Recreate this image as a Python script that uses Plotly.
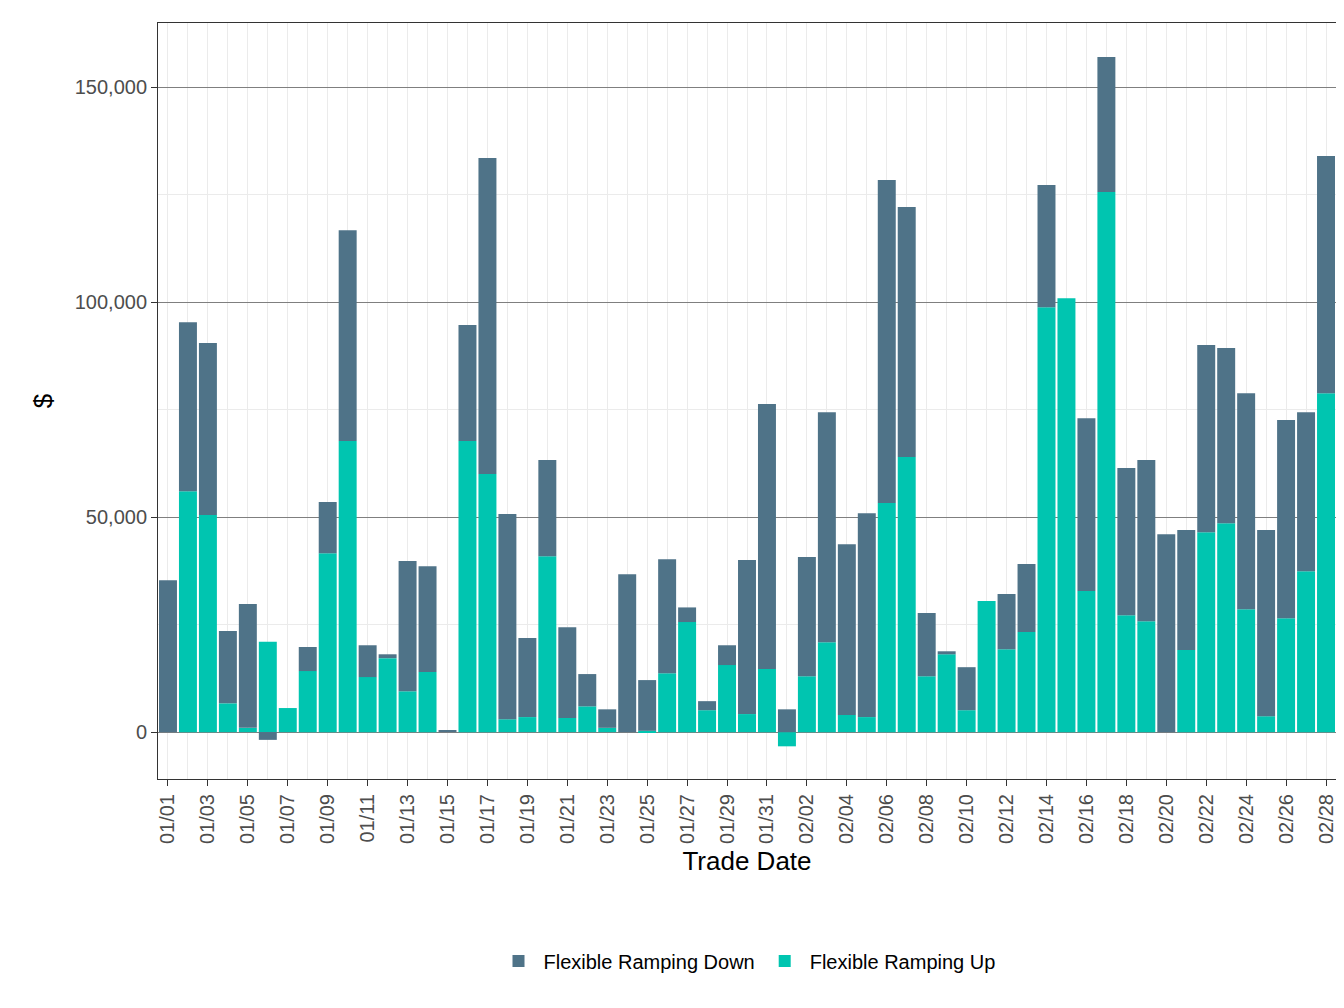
import plotly.graph_objects as go
import pandas as pd

dates = pd.date_range("2023-01-01", "2023-02-28").strftime("%m/%d").tolist()
up = [0, 56, 50.5, 6.7, 1, 21, 5.6, 14.2, 41.6, 67.7, 12.8, 17.2, 9.5, 14, 0,
      67.7, 60, 3, 3.5, 40.9, 3.3, 6, 1, 0, 0.3, 13.7, 25.6, 5.1, 15.6, 4.2, 14.7,
      -3.3, 13, 20.9, 4, 3.5, 53.3, 64, 13, 18.1, 5.1, 30.5, 19.3, 23.3, 98.8, 100.9,
      32.8, 125.6, 27.2, 25.8, 0, 19.1, 46.5, 48.6, 28.6, 3.7, 26.5, 37.4, 78.8]
down = [35.3, 39.3, 40, 16.8, 28.8, -1.8, 0, 5.6, 11.9, 49, 7.4, 0.9, 30.3, 24.6, 0.5,
        27, 73.5, 47.7, 18.4, 22.4, 21.1, 7.5, 4.3, 36.7, 11.8, 26.5, 3.4, 2.1, 4.6, 35.8, 61.6,
        5.3, 27.7, 53.5, 39.7, 47.4, 75.1, 58.1, 14.7, 0.7, 10, 0, 12.8, 15.8, 28.4, 0,
        40.2, 31.4, 34.2, 37.5, 46, 27.9, 43.5, 40.7, 50.2, 43.3, 46.1, 37, 55.2]
up = [v * 1000 for v in up]
down = [v * 1000 for v in down]

fig = go.Figure()
fig.add_bar(x=dates, y=up, name="Flexible Ramping Up", marker_color="#00c5b0",
            marker_line_width=0, legendrank=2)
fig.add_bar(x=dates, y=down, name="Flexible Ramping Down", marker_color="#4f7388",
            marker_line_width=0, legendrank=1)

fig.update_layout(
    barmode="relative", bargap=0.1, width=1344, height=1008,
    plot_bgcolor="white", paper_bgcolor="white",
    margin=dict(l=150, r=16, t=15, b=237),
    font=dict(family="Liberation Sans, Arial", size=20, color="#4d4d4d"),
    legend=dict(orientation="h", x=0.5, xanchor="center", y=-0.215, yanchor="top",
                font=dict(size=20, color="black"), itemwidth=40),
)
fig.update_xaxes(
    type="category", tickmode="array", tickvals=dates[::2], ticktext=dates[::2],
    tickangle=-90, showgrid=True, gridcolor="#ebebeb", gridwidth=1,
    ticks="outside", ticklen=6, tickcolor="#333", mirror=True, showline=True,
    linecolor="#333", linewidth=1, tickfont=dict(size=20, color="#4d4d4d"),
    title=dict(text="Trade Date", font=dict(size=26, color="black"), standoff=8),
    minor=dict(showgrid=True, gridcolor="#ebebeb", tickvals=dates[1::2]),
)
fig.update_yaxes(
    range=[-10900, 164900], tickvals=[0, 50000, 100000, 150000],
    ticktext=["0", "50,000", "100,000", "150,000"], tickfont=dict(size=20, color="#4d4d4d"),
    showgrid=True, gridcolor="#7f7f7f", gridwidth=1, zeroline=False,
    minor=dict(showgrid=True, gridcolor="#ebebeb", tickvals=[25000, 75000, 125000]),
    ticks="outside", ticklen=6, tickcolor="#333", mirror=True, showline=True,
    linecolor="#333", linewidth=1,
    title=dict(text="$", font=dict(size=26, color="black"), standoff=14),
)
fig.write_html("out.html")
